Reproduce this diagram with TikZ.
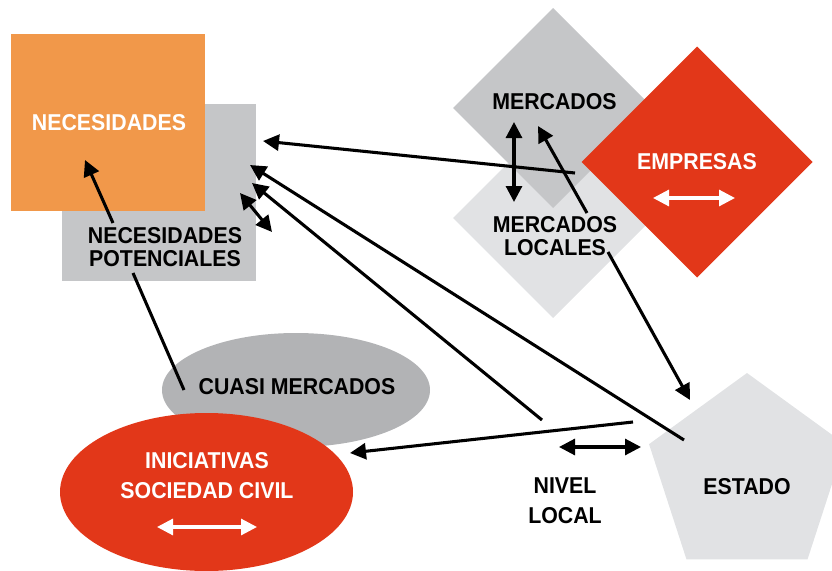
\documentclass[tikz,border=0pt]{standalone}
\usepackage{fontspec}
\setmainfont{Liberation Sans}[FakeStretch=0.93]
\usepackage{xcolor}
\usepackage{tikz}
\usetikzlibrary{shapes.geometric,arrows.meta}

\definecolor{naranja}{RGB}{241,152,74}
\definecolor{grismedio}{RGB}{197,198,200}
\definecolor{grisclaro}{RGB}{225,226,228}
\definecolor{grisoscuro}{RGB}{178,179,181}
\definecolor{rojo}{RGB}{226,55,25}

\tikzset{
  flecha/.style={-{Triangle[length=12pt,width=12pt]}, line width=2.3pt},
  dobleflecha/.style={{Triangle[length=12pt,width=12pt]}-{Triangle[length=12pt,width=12pt]}, line width=2.3pt},
  linea/.style={line width=2.3pt},
  rotulo/.style={font=\bfseries\fontsize{17.2}{17.25}\selectfont, align=center, inner sep=0pt},
  rotuloancho/.style={font=\bfseries\fontsize{17.2}{22.5}\selectfont, align=center, inner sep=0pt},
  bloque/.style={inner sep=0pt, outer sep=0pt},
}

\begin{document}
\begin{tikzpicture}[x=0.75pt,y=-0.75pt]
 \clip (0,0) rectangle (832,571);

  % bloques de la izquierda
  \node[bloque, fill=grismedio, minimum width=145.5pt, minimum height=132.75pt, anchor=north west] (potenciales) at (62,104) {};
  \node[bloque, fill=naranja, minimum width=145.5pt, minimum height=132.75pt, anchor=north west] (necesidades) at (11,34) {};

  % mercados y empresas
  \node[bloque, diamond, fill=grisclaro, minimum width=150pt, minimum height=150pt] (locales) at (553,218) {};
  \node[bloque, diamond, fill=grismedio, minimum width=150pt, minimum height=150pt] (mercados) at (553,108) {};
  \node[bloque, diamond, fill=rojo, minimum width=173.25pt, minimum height=173.25pt] (empresas) at (697,162) {};

  % elipses
  \node[bloque, ellipse, fill=grisoscuro, minimum width=201pt, minimum height=85.5pt] (cuasi) at (296,390) {};
  \node[bloque, ellipse, fill=rojo, minimum width=219.75pt, minimum height=118.5pt] (iniciativas) at (206.5,492) {};

  % estado
  \node[bloque, regular polygon, regular polygon sides=5, fill=grisclaro, minimum size=154.5pt] (estado) at (747,476) {};

  % textos
  \node[rotulo, white] (tnecesidades) at (109,122.5) {NECESIDADES};
  \node[rotulo] (tpotenciales) at (165,247) {NECESIDADES\\POTENCIALES};
  \node[rotulo] (tmercados) at (554.5,101.5) {MERCADOS};
  \node[rotulo] (tlocales) at (555,236) {MERCADOS\\LOCALES};
  \node[rotulo, white] (tempresas) at (697,162) {EMPRESAS};
  \node[rotulo] (tcuasi) at (297,386.5) {CUASI MERCADOS};
  \node[rotuloancho, white] (tiniciativas) at (207,476) {INICIATIVAS\\SOCIEDAD CIVIL};
  \node[rotuloancho] (tnivel) at (565,501) {NIVEL\\LOCAL};
  \node[rotulo] (testado) at (747,486.5) {ESTADO};

  % puntos de las flechas
  \coordinate (p1) at (113,223);  \coordinate (n1) at (85,160);
  \coordinate (p2) at (133,273);  \coordinate (c1) at (184,390);
  \coordinate (e1) at (575,173);  \coordinate (p3) at (263,141);
  \coordinate (s1) at (684,440);  \coordinate (p4) at (250,165);
  \coordinate (l1) at (542,420);  \coordinate (p5) at (252,183);
  \coordinate (p6) at (240,193);  \coordinate (p7) at (272,232);
  \coordinate (m1) at (587,213);  \coordinate (m2) at (538,126);
  \coordinate (m3) at (608,252);  \coordinate (s2) at (690,400);
  \coordinate (s3) at (633,422);  \coordinate (i1) at (350,453);
  \coordinate (v1) at (559,447);  \coordinate (v2) at (641,447);
  \coordinate (m4) at (514,122);  \coordinate (m5) at (514,202);
  \coordinate (w1) at (653,198);  \coordinate (w2) at (735,198);
  \coordinate (w3) at (157,527);  \coordinate (w4) at (257,527);

  % conectores
  \draw[flecha] (p1) -- (n1);
  \draw[linea] (p2) -- (c1);
  \draw[flecha] (e1) -- (p3);
  \draw[flecha] (s1) -- (p4);
  \draw[flecha] (l1) -- (p5);
  \draw[dobleflecha] (p6) -- (p7);
  \draw[flecha] (m1) -- (m2);
  \draw[flecha] (m3) -- (s2);
  \draw[flecha] (s3) -- (i1);
  \draw[dobleflecha] (v1) -- (v2);
  \draw[dobleflecha] (m4) -- (m5);
  \draw[dobleflecha, white] (w1) -- (w2);
  \draw[dobleflecha, white] (w3) -- (w4);

\end{tikzpicture}
\end{document}
